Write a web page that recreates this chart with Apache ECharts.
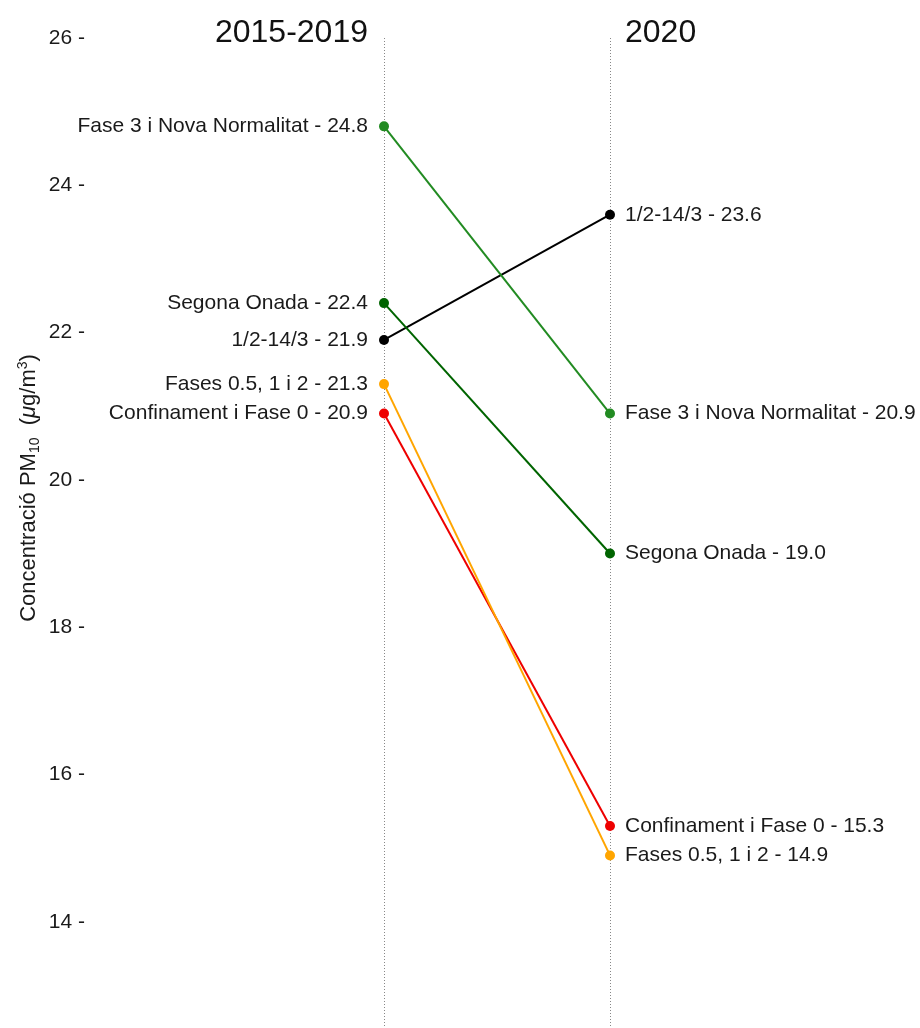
<!DOCTYPE html>
<html>
<head>
<meta charset="utf-8">
<script src="https://cdn.jsdelivr.net/npm/echarts@6/dist/echarts.min.js"></script>
<style>
html,body{margin:0;padding:0;background:#fff;}
#chart{width:920px;height:1028px;}
</style>
</head>
<body>
<div id="chart"></div>
<script>
var periods = ['2015-2019', '2020'];
var names = ['1/2-14/3', 'Confinament i Fase 0', 'Fases 0.5, 1 i 2', 'Fase 3 i Nova Normalitat', 'Segona Onada'];
var values2015_2019 = [21.9, 20.9, 21.3, 24.8, 22.4];
var values2020 = [23.6, 15.3, 14.9, 20.9, 19.0];
var colors = ['#000000', '#ee0000', '#ffa500', '#228b22', '#006400'];
var yTicks = [14, 16, 18, 20, 22, 24, 26];

var FONT = 'Liberation Sans, Arial, Helvetica, sans-serif';
var chart = echarts.init(document.getElementById('chart'), null, {renderer: 'canvas'});

var series = names.map(function (n, i) {
  return {
    type: 'line',
    name: n,
    symbol: 'circle',
    symbolSize: 10,
    lineStyle: {color: colors[i], width: 2},
    itemStyle: {color: colors[i]},
    z: 3,
    label: {
      show: true,
      fontFamily: FONT,
      fontSize: 21,
      color: '#1a1a1a',
      formatter: function (p) { return n + ' - ' + p.value[1].toFixed(1); }
    },
    data: [
      {value: [0, values2015_2019[i]], label: {position: 'left', distance: 11}},
      {value: [1, values2020[i]], label: {position: 'right', distance: 10}}
    ]
  };
});

chart.setOption({
  animation: false,
  backgroundColor: '#ffffff',
  grid: {left: 384, width: 226, top: 38, height: 1031, containLabel: false, outerBoundsMode: 'none'},
  xAxis: {
    type: 'value', min: 0, max: 1, interval: 1,
    axisLine: {show: false}, axisTick: {show: false}, axisLabel: {show: false},
    splitLine: {show: true, lineStyle: {color: '#888', type: [1, 2], width: 1}}
  },
  yAxis: {
    type: 'value', min: 12, max: 26, interval: 2, position: 'left', offset: 291,
    axisLine: {show: false}, axisTick: {show: false}, splitLine: {show: false},
    axisLabel: {
      fontFamily: FONT, fontSize: 21, color: '#1a1a1a', margin: 8,
      formatter: function (v) { return yTicks.indexOf(v) >= 0 ? v + ' -' : ''; }
    }
  },
  graphic: [
    {type: 'text', right: 920 - 368, top: 17,
     style: {text: periods[0], font: '32px ' + FONT, fill: '#111'}},
    {type: 'text', left: 625, top: 17,
     style: {text: periods[1], font: '32px ' + FONT, fill: '#111'}},
    {type: 'text', x: 29, y: 488, rotation: Math.PI / 2,
     style: {
       text: '{a|Concentració PM}{s|10}{a|  (}{i|μ}{a|g/m}{p|3}{a|)}',
       align: 'center', verticalAlign: 'middle',
       rich: {
         a: {font: '22px ' + FONT, fill: '#1a1a1a', lineHeight: 26, verticalAlign: 'middle'},
         i: {font: 'italic 22px ' + FONT, fill: '#1a1a1a', lineHeight: 26, verticalAlign: 'middle'},
         s: {font: '14px ' + FONT, fill: '#1a1a1a', lineHeight: 26, verticalAlign: 'bottom', padding: [6, 0, 0, 0]},
         p: {font: '14px ' + FONT, fill: '#1a1a1a', lineHeight: 26, verticalAlign: 'top', padding: [0, 0, 8, 0]}
       }
     }}
  ],
  series: series
});
</script>
</body>
</html>
